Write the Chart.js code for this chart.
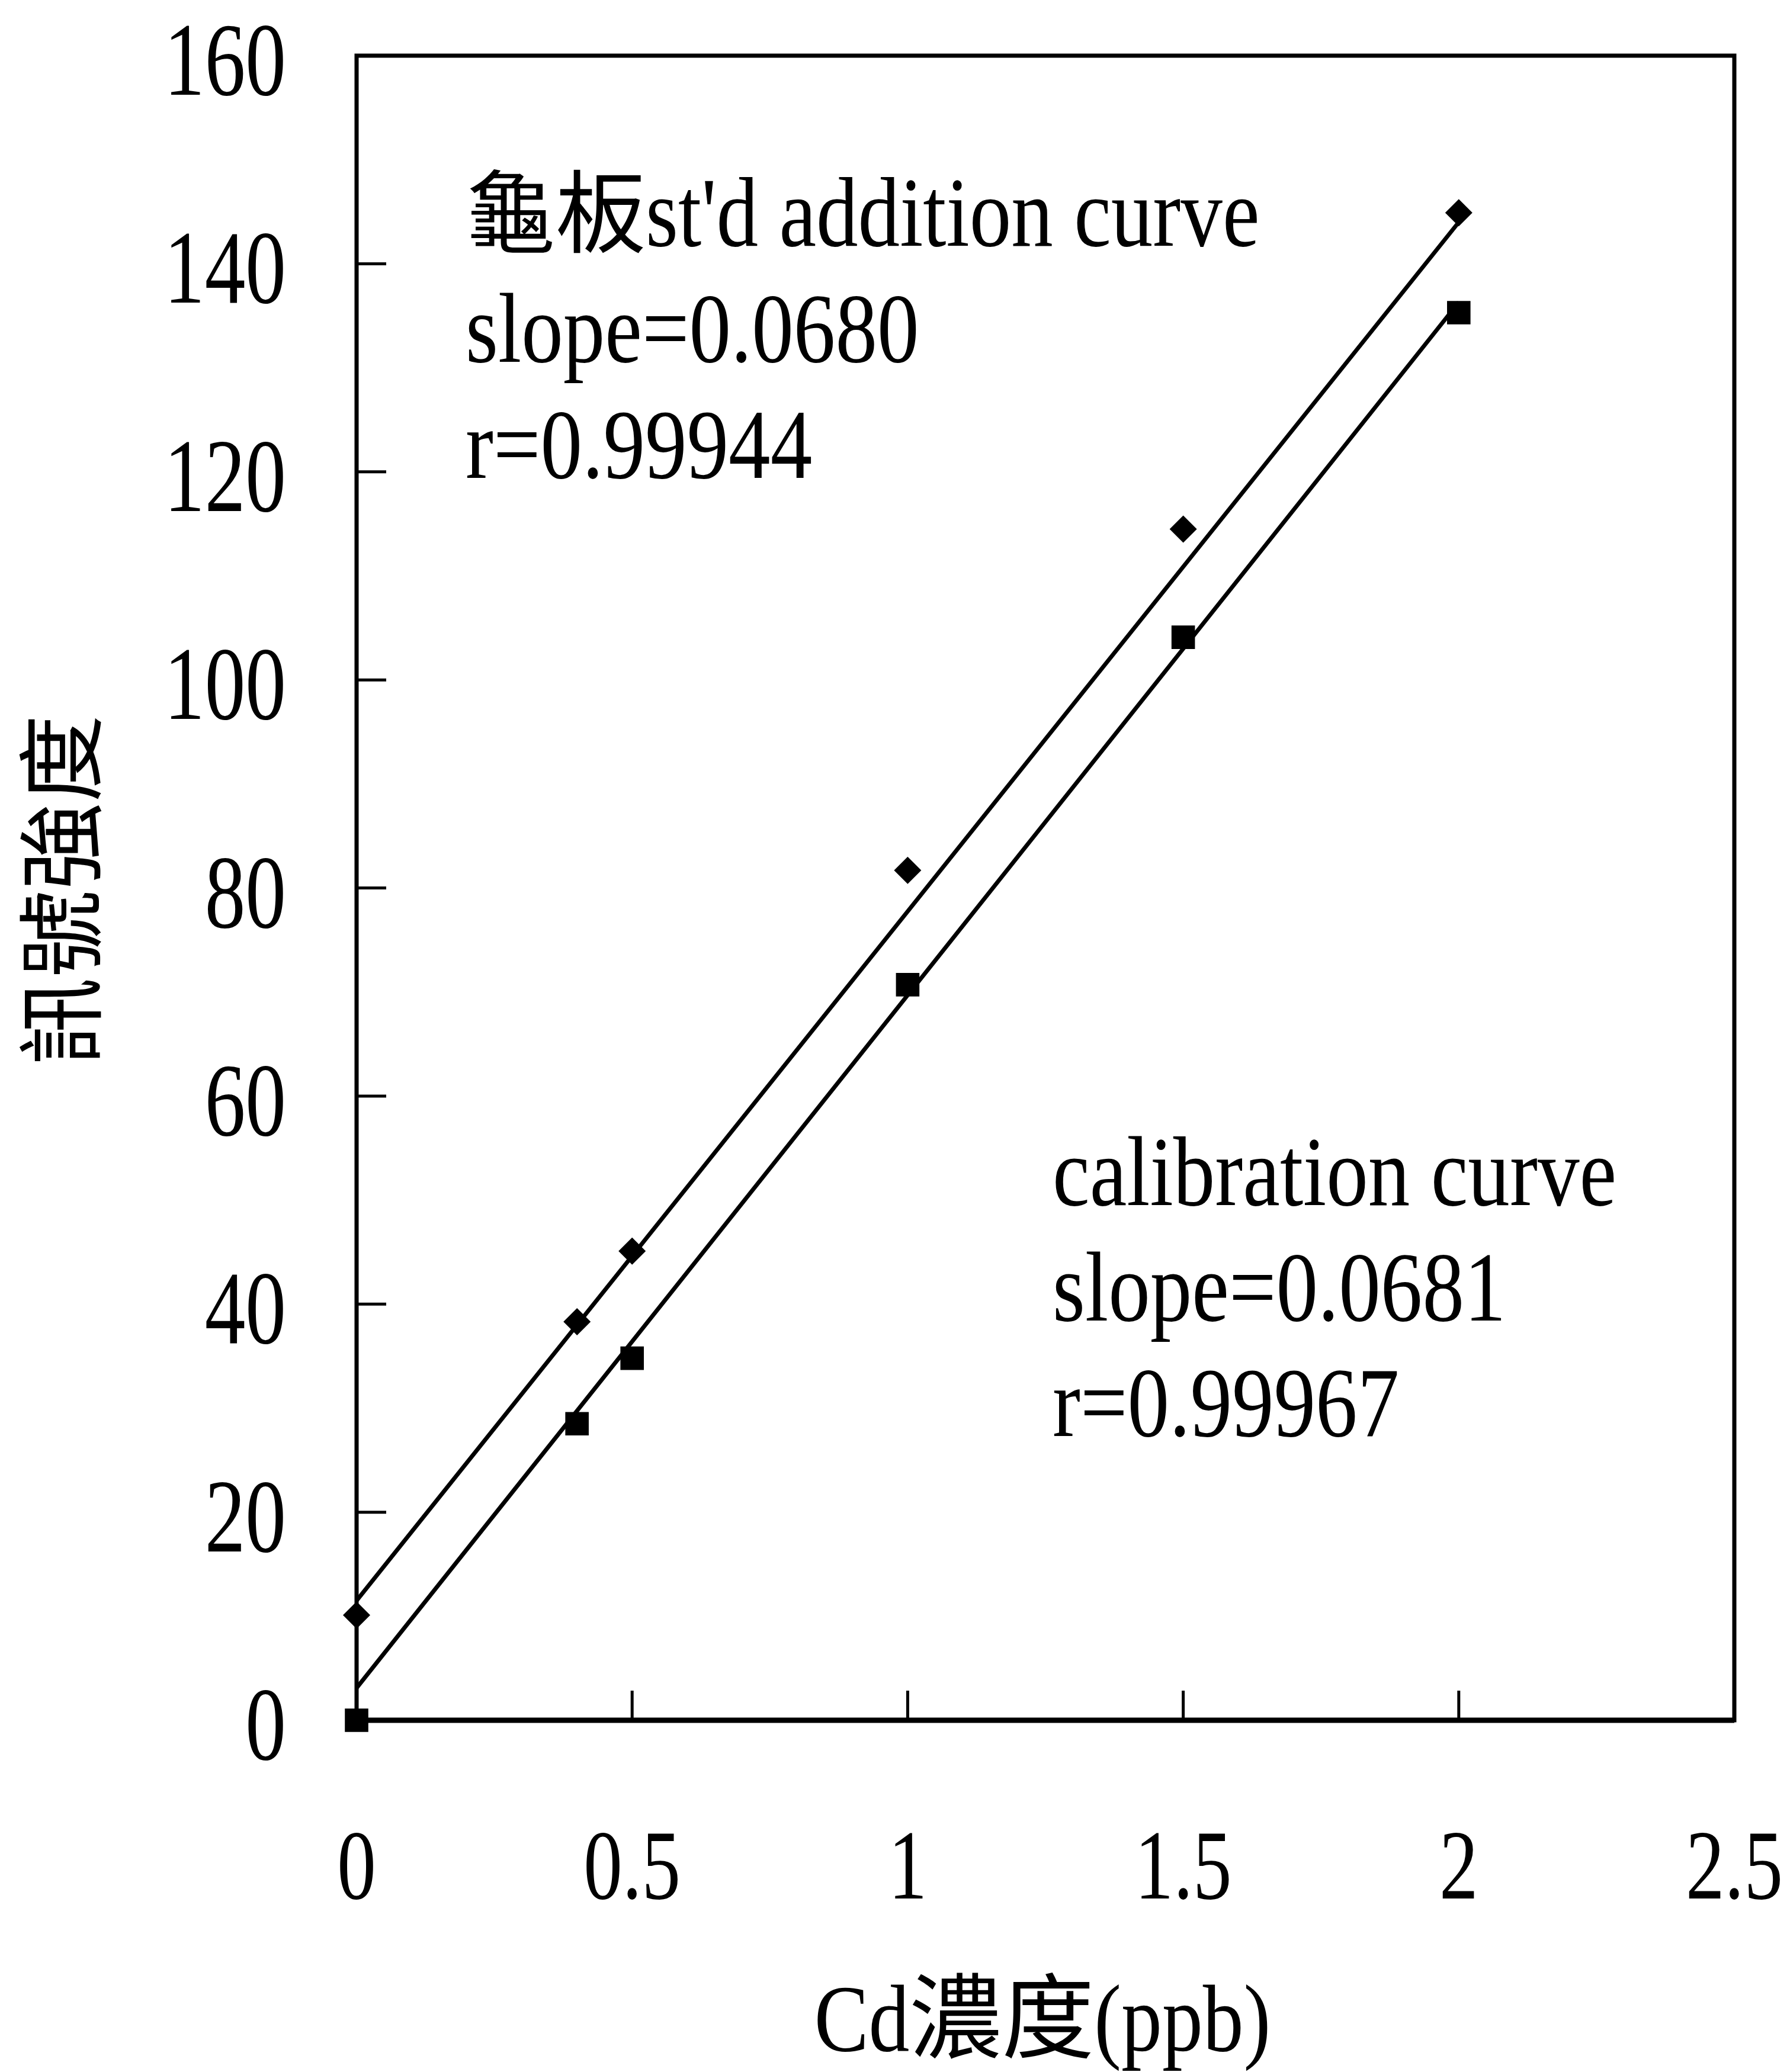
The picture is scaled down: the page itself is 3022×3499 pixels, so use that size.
<!DOCTYPE html>
<html>
<head>
<meta charset="utf-8">
<title>Cd standard addition</title>
<script src="https://cdn.jsdelivr.net/npm/chart.js@4.4.1/dist/chart.umd.min.js"></script>
<style>
  html, body { margin: 0; padding: 0; background: #fff; }
  #wrap { width: 3022px; height: 3499px; position: relative; }
</style>
</head>
<body>
<div id="wrap"><canvas id="canvas"></canvas></div>
<script>
// Cd concentration (ppb) for both series
const concX = [0, 0.4, 0.5, 1, 1.5, 2];
// 龜板 standard addition (diamonds)
const additionY = [10.1, 38.3, 45.1, 81.7, 114.5, 144.9];
// calibration standards (squares)
const calibrationY = [0, 28.5, 34.8, 70.7, 104.1, 135.3];

// fitted lines, end points only
const fitX = [0, 2];
const additionFitY = [11.5, 144.0];
const calibrationFitY = [3.1, 136.3];

const xTicks = [0, 0.5, 1, 1.5, 2, 2.5];
const yTicks = [0, 20, 40, 60, 80, 100, 120, 140, 160];

const xTitle = 'Cd濃度(ppb)';
const yTitle = '訊號強度';
const additionNote = ["龜板st'd addition curve", 'slope=0.0680', 'r=0.99944'];
const calibrationNote = ['calibration curve', 'slope=0.0681', 'r=0.99967'];

const LATIN = "'Liberation Serif', 'Times New Roman', serif";
const CJK = "'Noto Sans CJK TC', 'Noto Sans CJK SC', sans-serif";

const toPts = (xs, ys) => xs.map((v, i) => ({x: v, y: ys[i]}));

// draw a string mixing latin and CJK runs; the latin runs are squeezed sideways
function drawMixed(ctx, text, x, y, o) {
    const runs = text.match(/[\u3000-\u9fff\uf900-\ufaff]+|[^\u3000-\u9fff\uf900-\ufaff]+/g) || [];
    const parts = runs.map(s => {
        const cjk = /[\u3000-\u9fff\uf900-\ufaff]/.test(s);
        const font = cjk ? o.cjkSize + 'px ' + CJK : o.size + 'px ' + LATIN;
        const sx = cjk ? 1 : o.squeeze;
        ctx.font = font;
        return {s, font, sx, w: ctx.measureText(s).width * sx};
    });
    const total = parts.reduce((a, p) => a + p.w, 0);
    let cx = x;
    if (o.align === 'center') cx = x - total / 2;
    else if (o.align === 'right') cx = x - total;
    parts.forEach(p => {
        ctx.save();
        ctx.translate(cx, y);
        ctx.scale(p.sx, 1);
        ctx.font = p.font;
        ctx.textAlign = 'left';
        ctx.textBaseline = o.baseline || 'alphabetic';
        ctx.fillStyle = '#000';
        ctx.fillText(p.s, 0, 0);
        ctx.restore();
        cx += p.w;
    });
}

const framePlugin = {
    id: 'frame',
    beforeDatasetsDraw(chart) {
        const {ctx, chartArea: a, scales: {x, y}} = chart;
        ctx.save();
        ctx.strokeStyle = '#000';
        ctx.lineWidth = 5;
        ctx.beginPath();
        yTicks.forEach(v => {
            const py = y.getPixelForValue(v);
            ctx.moveTo(a.left, py);
            ctx.lineTo(a.left + 50, py);
        });
        xTicks.forEach(v => {
            const px = x.getPixelForValue(v);
            ctx.moveTo(px, a.bottom);
            ctx.lineTo(px, a.bottom - 50);
        });
        ctx.stroke();
        ctx.lineWidth = 7;
        ctx.strokeRect(a.left, a.top, a.right - a.left, a.bottom - a.top);
        ctx.lineWidth = 9;
        ctx.beginPath();
        ctx.moveTo(a.left, a.bottom);
        ctx.lineTo(a.right, a.bottom);
        ctx.stroke();
        ctx.restore();
    },
    afterDraw(chart) {
        const {ctx, chartArea: a, scales: {x, y}} = chart;
        // tick labels
        yTicks.forEach(v => {
            drawMixed(ctx, String(v), a.left - 119, y.getPixelForValue(v) + 66,
                {size: 176, cjkSize: 150, squeeze: 0.78, align: 'right'});
        });
        xTicks.forEach(v => {
            drawMixed(ctx, String(v), x.getPixelForValue(v), a.bottom + 301,
                {size: 168, cjkSize: 150, squeeze: 0.78, align: 'center'});
        });
        // axis titles
        drawMixed(ctx, xTitle, 1760, a.bottom + 558,
            {size: 160, cjkSize: 156, squeeze: 0.86, align: 'center'});
        ctx.save();
        ctx.translate(102, 1503);
        ctx.rotate(-Math.PI / 2);
        drawMixed(ctx, yTitle, 0, 0,
            {size: 150, cjkSize: 148, squeeze: 1, align: 'center', baseline: 'middle'});
        ctx.restore();
        // regression notes
        const noteOpts = {size: 168, cjkSize: 152, squeeze: 0.84, align: 'left'};
        additionNote.forEach((t, i) => {
            drawMixed(ctx, t, a.left + 184, a.top + 321 + i * 196, noteOpts);
        });
        calibrationNote.forEach((t, i) => {
            drawMixed(ctx, t, a.left + 1175, a.top + 1941 + i * 195, noteOpts);
        });
    }
};

const axisOpts = (min, max) => ({
    type: 'linear',
    min: min,
    max: max,
    grid: {display: false, drawTicks: false},
    border: {display: false},
    ticks: {display: false}
});

new Chart(document.getElementById('canvas').getContext('2d'), {
    type: 'scatter',
    data: {
        datasets: [
            {
                label: 'addition fit',
                data: toPts(fitX, additionFitY),
                showLine: true,
                borderColor: '#000',
                borderWidth: 7,
                pointRadius: 0,
                fill: false,
                clip: false
            },
            {
                label: 'calibration fit',
                data: toPts(fitX, calibrationFitY),
                showLine: true,
                borderColor: '#000',
                borderWidth: 7,
                pointRadius: 0,
                fill: false,
                clip: false
            },
            {
                label: "龜板st'd addition",
                data: toPts(concX, additionY),
                pointStyle: 'rectRot',
                pointRadius: 23,
                backgroundColor: '#000',
                borderColor: '#000',
                borderWidth: 0,
                clip: false
            },
            {
                label: 'calibration',
                data: toPts(concX, calibrationY),
                pointStyle: 'rect',
                pointRadius: 28,
                backgroundColor: '#000',
                borderColor: '#000',
                borderWidth: 0,
                clip: false
            }
        ]
    },
    options: {
        responsive: true,
        maintainAspectRatio: false,
        animation: false,
        events: [],
        layout: {padding: {left: 602, top: 94, right: 94, bottom: 594}},
        plugins: {legend: {display: false}, tooltip: {enabled: false}, title: {display: false}},
        scales: {x: axisOpts(0, 2.5), y: axisOpts(0, 160)}
    },
    plugins: [framePlugin]
});
</script>
</body>
</html>
